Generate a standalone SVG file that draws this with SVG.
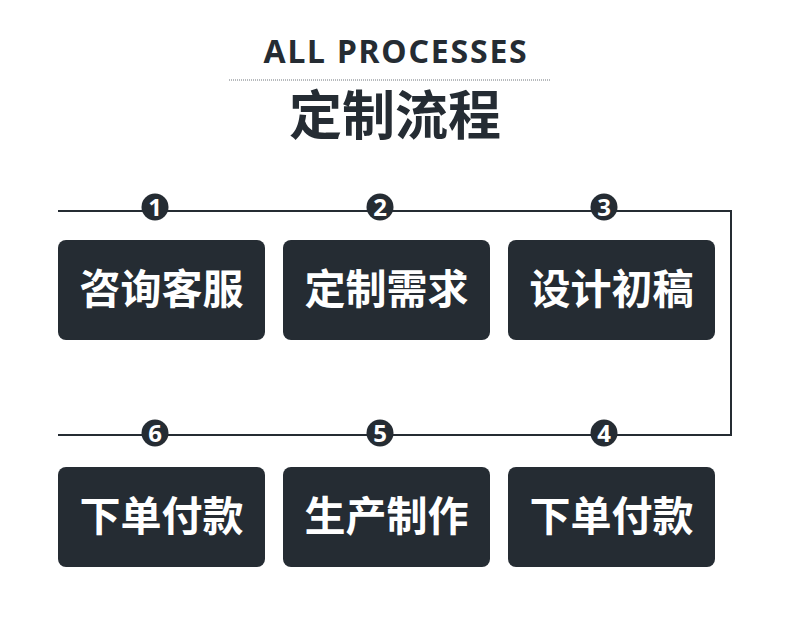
<svg xmlns="http://www.w3.org/2000/svg" width="790" height="641" viewBox="0 0 790 641">
<style>
.box{fill:#252c33}
.lbl{fill:#ffffff;font-family:"Noto Sans CJK SC","Noto Sans",sans-serif;font-weight:700;font-size:41px;text-anchor:middle}
.num{fill:#ffffff;font-family:"Noto Sans","Liberation Sans",sans-serif;font-weight:700;font-size:24px;text-anchor:middle}
.dot{fill:#252c33}
.ln{fill:none;stroke:#252c33;stroke-width:2}
</style>
<rect width="790" height="641" fill="#ffffff"/>
<g id="title">
<text x="396" y="63" font-family="'Noto Sans','Open Sans',sans-serif" font-weight="700" font-size="32" fill="#252c33" text-anchor="middle" letter-spacing="1.8">ALL PROCESSES</text>
<line x1="229" y1="80" x2="550" y2="80" stroke="#6f747a" stroke-width="1" stroke-dasharray="1,1"/>
<text x="395" y="135" font-family="'Noto Sans CJK SC',sans-serif" font-weight="700" font-size="53" fill="#252c33" text-anchor="middle">定制流程</text>
</g>
<g id="connectors">
<polyline class="ln" points="58,211 731,211 731,435 58,435"/>
</g>
<g id="n1"><rect class="box" x="58" y="240" width="207" height="100" rx="8"/><text class="lbl" x="161.5" y="304">咨询客服</text><circle class="dot" cx="155" cy="207" r="13.5"/><text class="num" x="155" y="215.5">1</text></g>
<g id="n2"><rect class="box" x="283" y="240" width="207" height="100" rx="8"/><text class="lbl" x="386.5" y="304">定制需求</text><circle class="dot" cx="380" cy="207" r="13.5"/><text class="num" x="380" y="215.5">2</text></g>
<g id="n3"><rect class="box" x="508" y="240" width="207" height="100" rx="8"/><text class="lbl" x="611.5" y="304">设计初稿</text><circle class="dot" cx="604" cy="207" r="13.5"/><text class="num" x="604" y="215.5">3</text></g>
<g id="n4"><rect class="box" x="508" y="467" width="207" height="100" rx="8"/><text class="lbl" x="611.5" y="531">下单付款</text><circle class="dot" cx="604" cy="433" r="13.5"/><text class="num" x="604" y="441.5">4</text></g>
<g id="n5"><rect class="box" x="283" y="467" width="207" height="100" rx="8"/><text class="lbl" x="386.5" y="531">生产制作</text><circle class="dot" cx="380" cy="433" r="13.5"/><text class="num" x="380" y="441.5">5</text></g>
<g id="n6"><rect class="box" x="58" y="467" width="207" height="100" rx="8"/><text class="lbl" x="161.5" y="531">下单付款</text><circle class="dot" cx="155" cy="433" r="13.5"/><text class="num" x="155" y="441.5">6</text></g>
</svg>
